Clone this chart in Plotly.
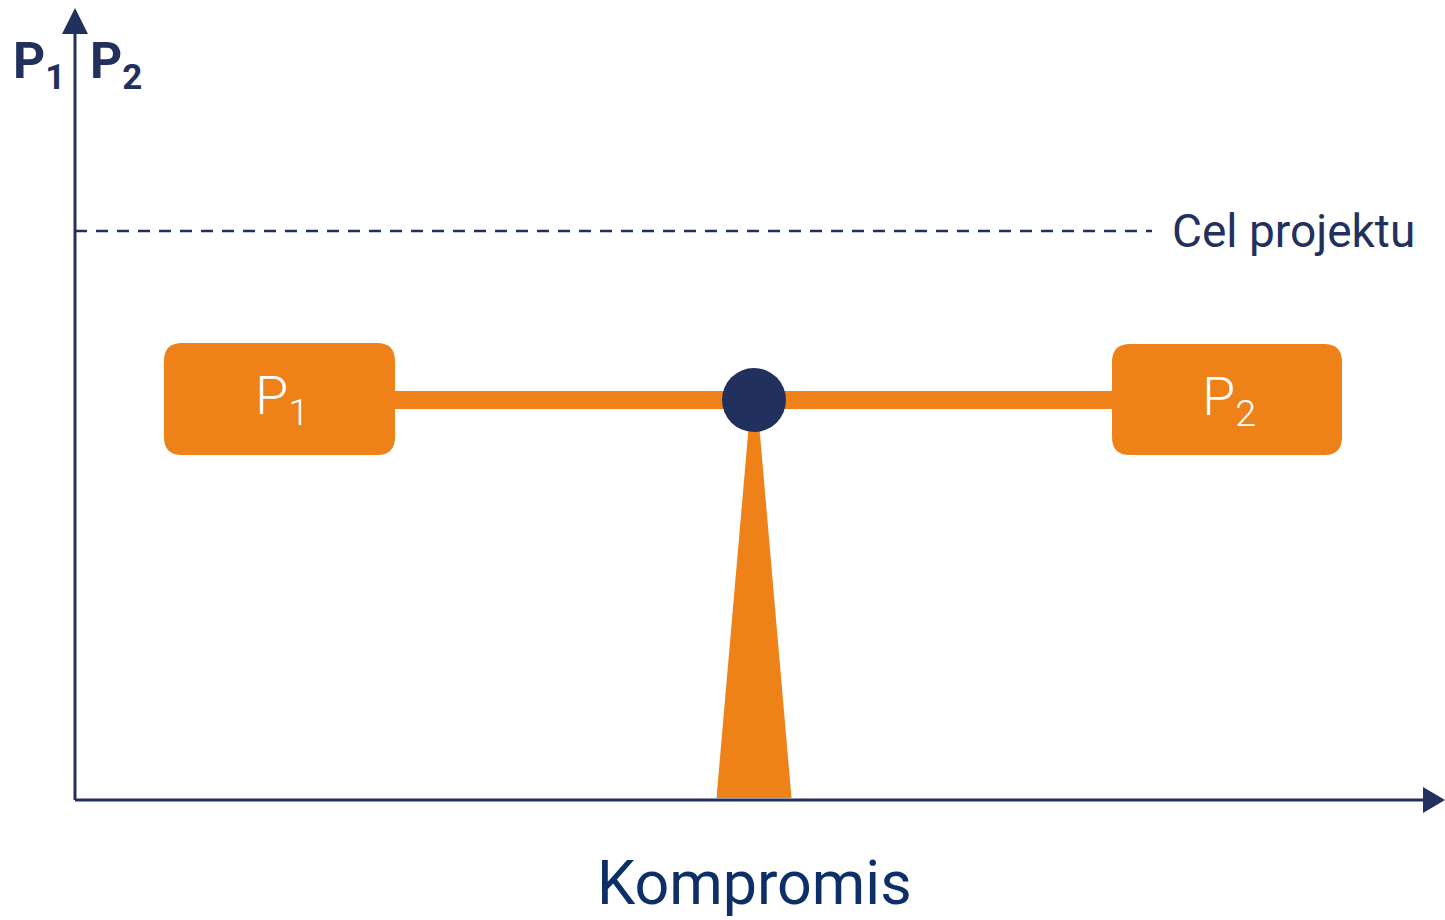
import plotly.graph_objects as go

# ---- diagram data (data units: 1 unit = 1 px, origin at axis corner) ----
x_axis_end = 1370
y_axis_end = 792
target_level = 569
target_end = 1077
beam_level = 400
beam_half_thickness = 9
pivot_x = 679
pivot_radius = 32
pivot_base_half = 37.5
pivot_top_half = 3
box_names = ["P<sub>1</sub>", "P<sub>2</sub>"]
box_x0 = [89, 1037]
box_x1 = [320, 1267]
box_y0 = [345, 345]
box_y1 = [457, 456]
axis_labels = ["<b>P<sub>1</sub></b>", "<b>P<sub>2</sub></b>"]
axis_label_x = [-36, 41]
x_title = "Kompromis"
target_label = "Cel projektu"

NAVY = "#22305e"
ORANGE = "#ee8219"
FONT = "Roboto"

def rounded(x0, x1, y0, y1, r):
    return (f"M {x0+r},{y0} L {x1-r},{y0} Q {x1},{y0} {x1},{y0+r} "
            f"L {x1},{y1-r} Q {x1},{y1} {x1-r},{y1} L {x0+r},{y1} "
            f"Q {x0},{y1} {x0},{y1-r} L {x0},{y0+r} Q {x0},{y0} {x0+r},{y0} Z")

shapes = []
# axes
shapes.append(dict(type="line", x0=0, y0=0, x1=x_axis_end - 20, y1=0,
                   line=dict(color=NAVY, width=3)))
shapes.append(dict(type="line", x0=0, y0=0, x1=0, y1=y_axis_end - 20,
                   line=dict(color=NAVY, width=3)))
shapes.append(dict(type="path",
                   path=f"M {x_axis_end-22},13 L {x_axis_end},0 L {x_axis_end-22},-13 Z",
                   fillcolor=NAVY, line=dict(width=0)))
shapes.append(dict(type="path",
                   path=f"M -13,{y_axis_end-26} L 0,{y_axis_end} L 13,{y_axis_end-26} Z",
                   fillcolor=NAVY, line=dict(width=0)))
# target dashed line
shapes.append(dict(type="line", x0=0, y0=target_level, x1=target_end, y1=target_level,
                   line=dict(color=NAVY, width=2.5, dash="12px,9px")))
# beam
shapes.append(dict(type="rect", x0=box_x1[0], x1=box_x0[1],
                   y0=beam_level - beam_half_thickness, y1=beam_level + beam_half_thickness,
                   fillcolor=ORANGE, line=dict(width=0)))
# pivot triangle
shapes.append(dict(type="path",
                   path=(f"M {pivot_x-pivot_top_half},{beam_level} L {pivot_x+pivot_top_half},{beam_level} "
                         f"L {pivot_x+pivot_base_half},2 L {pivot_x-pivot_base_half},2 Z"),
                   fillcolor=ORANGE, line=dict(width=0)))
# boxes
for i in range(2):
    shapes.append(dict(type="path", path=rounded(box_x0[i], box_x1[i], box_y0[i], box_y1[i], 18),
                       fillcolor=ORANGE, line=dict(width=0)))
# pivot circle
shapes.append(dict(type="circle", x0=pivot_x - pivot_radius, x1=pivot_x + pivot_radius,
                   y0=beam_level - pivot_radius, y1=beam_level + pivot_radius,
                   fillcolor=NAVY, line=dict(width=0)))

annotations = []
for i in range(2):
    annotations.append(dict(x=(box_x0[i] + box_x1[i]) / 2 + 2, y=(box_y0[i] + box_y1[i]) / 2,
                            text=box_names[i], showarrow=False,
                            font=dict(family=FONT, size=54, color="white", weight=300)))
for i in range(2):
    annotations.append(dict(x=axis_label_x[i], y=735, text=axis_labels[i], showarrow=False,
                            font=dict(family=FONT, size=50, color=NAVY)))
annotations.append(dict(x=pivot_x, y=-83, text=x_title, showarrow=False,
                        font=dict(family=FONT, size=61, color="#0d2f67")))
annotations.append(dict(x=1095, y=target_level, text=target_label, showarrow=False,
                        xanchor="left",
                        font=dict(family=FONT, size=46, color=NAVY)))

fig = go.Figure()
fig.update_layout(
    width=1445, height=920,
    margin=dict(l=0, r=0, t=0, b=0),
    paper_bgcolor="white", plot_bgcolor="white",
    xaxis=dict(range=[-75, 1370], visible=False, fixedrange=True),
    yaxis=dict(range=[-120, 800], visible=False, fixedrange=True),
    shapes=shapes, annotations=annotations, showlegend=False,
)
fig.write_html("out.html", config={"displayModeBar": False},
               post_script="document.body.style.margin='0';document.body.style.overflow='hidden';")
